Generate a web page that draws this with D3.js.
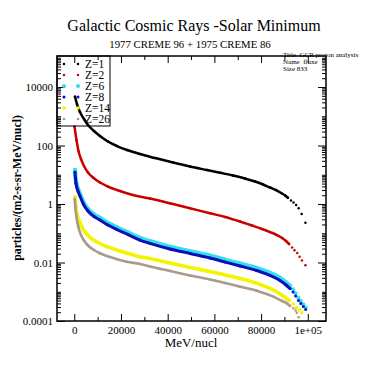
<!DOCTYPE html>
<html>
<head>
<meta charset="utf-8">
<script src="https://cdn.jsdelivr.net/npm/d3@7"></script>
<style>
  body { margin: 0; background: #fff; }
  svg { font-family: "Liberation Serif", "Times New Roman", serif; }
</style>
</head>
<body>
<div id="chart"></div>
<script>
// data (MeV/nucl, particles/(m2-s-sr-MeV/nucl))
const seriesNames = ["Z=1", "Z=2", "Z=6", "Z=8", "Z=14", "Z=26"];

const energyZ1 = [300, 1160, 2440, 4160, 5870, 8440, 11000, 14400, 18300, 22600, 28100, 34600, 42300, 49600, 56800, 62400, 68000, 73100, 77400, 80800, 83800, 86400, 88600, 90300, 91500, 92800, 93900, 95000, 96100, 97400, 99000];
const fluxZ1 = [4660, 2620, 1400, 805, 502, 313, 211, 137, 96, 70, 51, 37.4, 26.2, 19.1, 14.5, 11.7, 9.42, 7.45, 5.87, 4.64, 3.67, 3.01, 2.38, 1.95, 1.63, 1.32, 1.12, 0.925, 0.713, 0.455, 0.23];

const energyZ2 = [100, 940, 1800, 2870, 4160, 5870, 8010, 11000, 14400, 18300, 25100, 32400, 41000, 49600, 58100, 64600, 71000, 76100, 80400, 83800, 86800, 89000, 90700, 92000, 93300, 94300, 95500, 96500, 97500, 99000];
const fluxZ2 = [439, 154, 64.9, 34.5, 19.9, 11.9, 8.05, 5.43, 3.96, 3.01, 2.03, 1.54, 1.06, 0.713, 0.481, 0.36, 0.252, 0.184, 0.14, 0.11, 0.0871, 0.0689, 0.0543, 0.0428, 0.0326, 0.0264, 0.0211, 0.0158, 0.0117, 0.008];

const energyZ6 = [300, 730, 1590, 2440, 3860, 5870, 8440, 11000, 14400, 18300, 23000, 28100, 32400, 41000, 49600, 58100, 64600, 71000, 78100, 83800, 88100, 90700, 92400, 93700, 94800, 96000, 97000, 98100, 99100];
const fluxZ6 = [14.8, 6.0, 3.3, 2.2, 1.18, 0.68, 0.44, 0.335, 0.226, 0.158, 0.107, 0.07, 0.054, 0.0345, 0.0243, 0.0172, 0.0125, 0.0092, 0.0065, 0.0044, 0.003, 0.0021, 0.0016, 0.00122, 0.00089, 0.00062, 0.00048, 0.00037, 0.00029];

const energyZ8 = [300, 730, 1590, 2440, 3860, 5870, 8440, 11000, 14400, 18300, 23000, 28100, 32400, 41000, 49600, 58100, 64600, 71000, 78100, 83800, 88100, 90700, 92400, 93700, 94800, 96000, 97000, 98100, 99100];
const fluxZ8 = [12.1, 5.1, 2.78, 1.88, 1.0, 0.577, 0.374, 0.284, 0.191, 0.134, 0.0906, 0.0587, 0.0453, 0.029, 0.0203, 0.0143, 0.0104, 0.00759, 0.00532, 0.0036, 0.00243, 0.0017, 0.00129, 0.00098, 0.000716, 0.000502, 0.000396, 0.000313, 0.000247];

const energyZ14 = [300, 1030, 1590, 2440, 3170, 4580, 6730, 9730, 13900, 18300, 22400, 28100, 32400, 41000, 49600, 58100, 64600, 71000, 78100, 85300, 89500, 92000, 93800, 95200, 96400, 97400];
const fluxZ14 = [1.78, 0.481, 0.332, 0.243, 0.168, 0.11, 0.0716, 0.0502, 0.0347, 0.0267, 0.0211, 0.0158, 0.0137, 0.00962, 0.00675, 0.00492, 0.00374, 0.00284, 0.00195, 0.00115, 0.000716, 0.000502, 0.000381, 0.00029, 0.000238, 0.000192];

const energyZ26 = [200, 450, 860, 1710, 2870, 4160, 5870, 8440, 11000, 15300, 22400, 28100, 32400, 41000, 49600, 58100, 64600, 71000, 78100, 85300, 89400, 91000, 92400, 93800, 94800, 95300, 96100];
const fluxZ26 = [1.48, 0.789, 0.389, 0.168, 0.0871, 0.0565, 0.0381, 0.0267, 0.0207, 0.0154, 0.0106, 0.00889, 0.00729, 0.00512, 0.0036, 0.00262, 0.00199, 0.00149, 0.00109, 0.000678, 0.000465, 0.000403, 0.000326, 0.000272, 0.000229, 0.000192, 0.000134];

// tick values
const xMajorTicks = [0, 20000, 40000, 60000, 80000, 100000];
const xMinorTicks = [10000, 30000, 50000, 70000, 90000];
const yMajorTicks = [1e-4, 1e-2, 1, 1e2, 1e4];

// styles
const seriesColors = ["#000000", "#c80000", "#33e0f0", "#0a10b8", "#f4f400", "#a89a8e"];
const seriesRadius = [1.25, 1.25, 2.1, 1.5, 1.8, 1.3];
const tailStart = 92500; // past this the dots sit apart, no joining stroke

const series = [
  [energyZ1, fluxZ1], [energyZ2, fluxZ2], [energyZ6, fluxZ6],
  [energyZ8, fluxZ8], [energyZ14, fluxZ14], [energyZ26, fluxZ26]
].map(([e, f], i) => ({
  name: seriesNames[i],
  color: seriesColors[i],
  r: seriesRadius[i],
  points: e.map((v, j) => [v, f[j]])
}));

// dimensions
const margin = {top: 56, right: 57, bottom: 57, left: 57},
  width = 383 - margin.left - margin.right,
  height = 378 - margin.top - margin.bottom;

const svg = d3.select("#chart")
  .append("svg")
    .attr("width", 383)
    .attr("height", 378);

const g = svg.append("g")
    .attr("transform", `translate(${margin.left}, ${margin.top})`);

const x = d3.scaleLinear()
  .domain([-7400, 107800])
  .range([0, width]);

const y = d3.scaleLog()
  .domain([1e-4, 1.15e5])
  .range([height, 0]);

const yMinor = y.ticks().filter(v => !yMajorTicks.some(m => Math.abs(m - v) / m < 1e-6));

// titles
svg.append("text")
  .attr("x", 194).attr("y", 31)
  .attr("text-anchor", "middle")
  .attr("font-size", 16)
  .text("Galactic Cosmic Rays -Solar Minimum");

svg.append("text")
  .attr("x", 190).attr("y", 47.5)
  .attr("text-anchor", "middle")
  .attr("font-size", 10.8)
  .text("1977 CREME 96 + 1975 CREME 86");

// series: stroke through the dense part plus the dots
const line = d3.line()
  .x(d => x(d[0]))
  .y(d => y(d[1]))
  .curve(d3.curveMonotoneX);

series.forEach(s => {
  const sg = g.append("g");
  sg.append("path")
    .datum(s.points.filter(d => d[0] < tailStart))
    .attr("d", line)
    .attr("fill", "none")
    .attr("stroke", s.color)
    .attr("stroke-width", s.r * 2)
    .attr("stroke-linecap", "round");
  sg.selectAll("circle")
    .data(s.points)
    .join("circle")
      .attr("cx", d => x(d[0]))
      .attr("cy", d => y(d[1]))
      .attr("r", s.r)
      .attr("fill", s.color);
});

// axes, ticks pointing inward
function styleAxis(sel) {
  sel.attr("font-family", "'Liberation Serif', serif");
  sel.select(".domain").remove();
  sel.selectAll("line").attr("stroke", "#000");
  sel.selectAll("text").attr("font-size", 11).attr("fill", "#000");
}

g.append("g")
  .attr("transform", `translate(0, ${height})`)
  .call(d3.axisBottom(x).tickValues(xMajorTicks).tickSize(-7).tickPadding(5)
    .tickFormat(d => d === 100000 ? "1e+05" : d3.format("d")(d)))
  .call(styleAxis);
g.append("g")
  .attr("transform", `translate(0, ${height})`)
  .call(d3.axisBottom(x).tickValues(xMinorTicks).tickSize(-4).tickFormat(""))
  .call(styleAxis);
g.append("g")
  .call(d3.axisTop(x).tickValues(xMajorTicks).tickSize(-7).tickFormat(""))
  .call(styleAxis);
g.append("g")
  .call(d3.axisTop(x).tickValues(xMinorTicks).tickSize(-4).tickFormat(""))
  .call(styleAxis);

g.append("g")
  .call(d3.axisLeft(y).tickValues(yMajorTicks).tickSize(-8).tickPadding(4)
    .tickFormat(d => d3.format("~g")(d).replace("1e-4", "0.0001")))
  .call(styleAxis);
g.append("g")
  .call(d3.axisLeft(y).tickValues(yMinor).tickSize(-4).tickFormat(""))
  .call(styleAxis);
g.append("g")
  .attr("transform", `translate(${width}, 0)`)
  .call(d3.axisRight(y).tickValues(yMajorTicks).tickSize(-8).tickFormat(""))
  .call(styleAxis);
g.append("g")
  .attr("transform", `translate(${width}, 0)`)
  .call(d3.axisRight(y).tickValues(yMinor).tickSize(-4).tickFormat(""))
  .call(styleAxis);

// frame
g.append("rect")
  .attr("width", width)
  .attr("height", height)
  .attr("fill", "none")
  .attr("stroke", "#000")
  .attr("stroke-width", 1.5);

// axis titles
svg.append("text")
  .attr("x", 191).attr("y", 347)
  .attr("text-anchor", "middle")
  .attr("font-size", 13)
  .text("MeV/nucl");

svg.append("text")
  .attr("transform", "translate(21, 188) rotate(-90)")
  .attr("text-anchor", "middle")
  .attr("font-size", 11.8)
  .attr("font-weight", "bold")
  .text("particles/(m2-s-sr-MeV/nucl)");

// legend
const legend = g.append("g");
legend.append("rect")
  .attr("width", 53)
  .attr("height", 70)
  .attr("fill", "none")
  .attr("stroke", "#000")
  .attr("stroke-width", 1);

const rows = legend.selectAll("g.row")
  .data(series)
  .join("g")
    .attr("class", "row")
    .attr("transform", (d, i) => `translate(0, ${8 + i * 11})`);
rows.append("circle").attr("cx", 7).attr("r", d => d.r).attr("fill", d => d.color);
rows.append("circle").attr("cx", 21).attr("r", d => d.r).attr("fill", d => d.color);
rows.append("text")
  .attr("x", 28)
  .attr("dy", "0.35em")
  .attr("font-size", 11.5)
  .text(d => d.name);

// info box text, top right
const info = ["Title  GCR proton analysis", "Name  fluxe", "Size 833"];
svg.append("g").selectAll("text")
  .data(info)
  .join("text")
    .attr("x", 283)
    .attr("y", (d, i) => 56.5 + i * 7)
    .attr("font-size", 7)
    .style("white-space", "pre")
    .text(d => d);
</script>
</body>
</html>
